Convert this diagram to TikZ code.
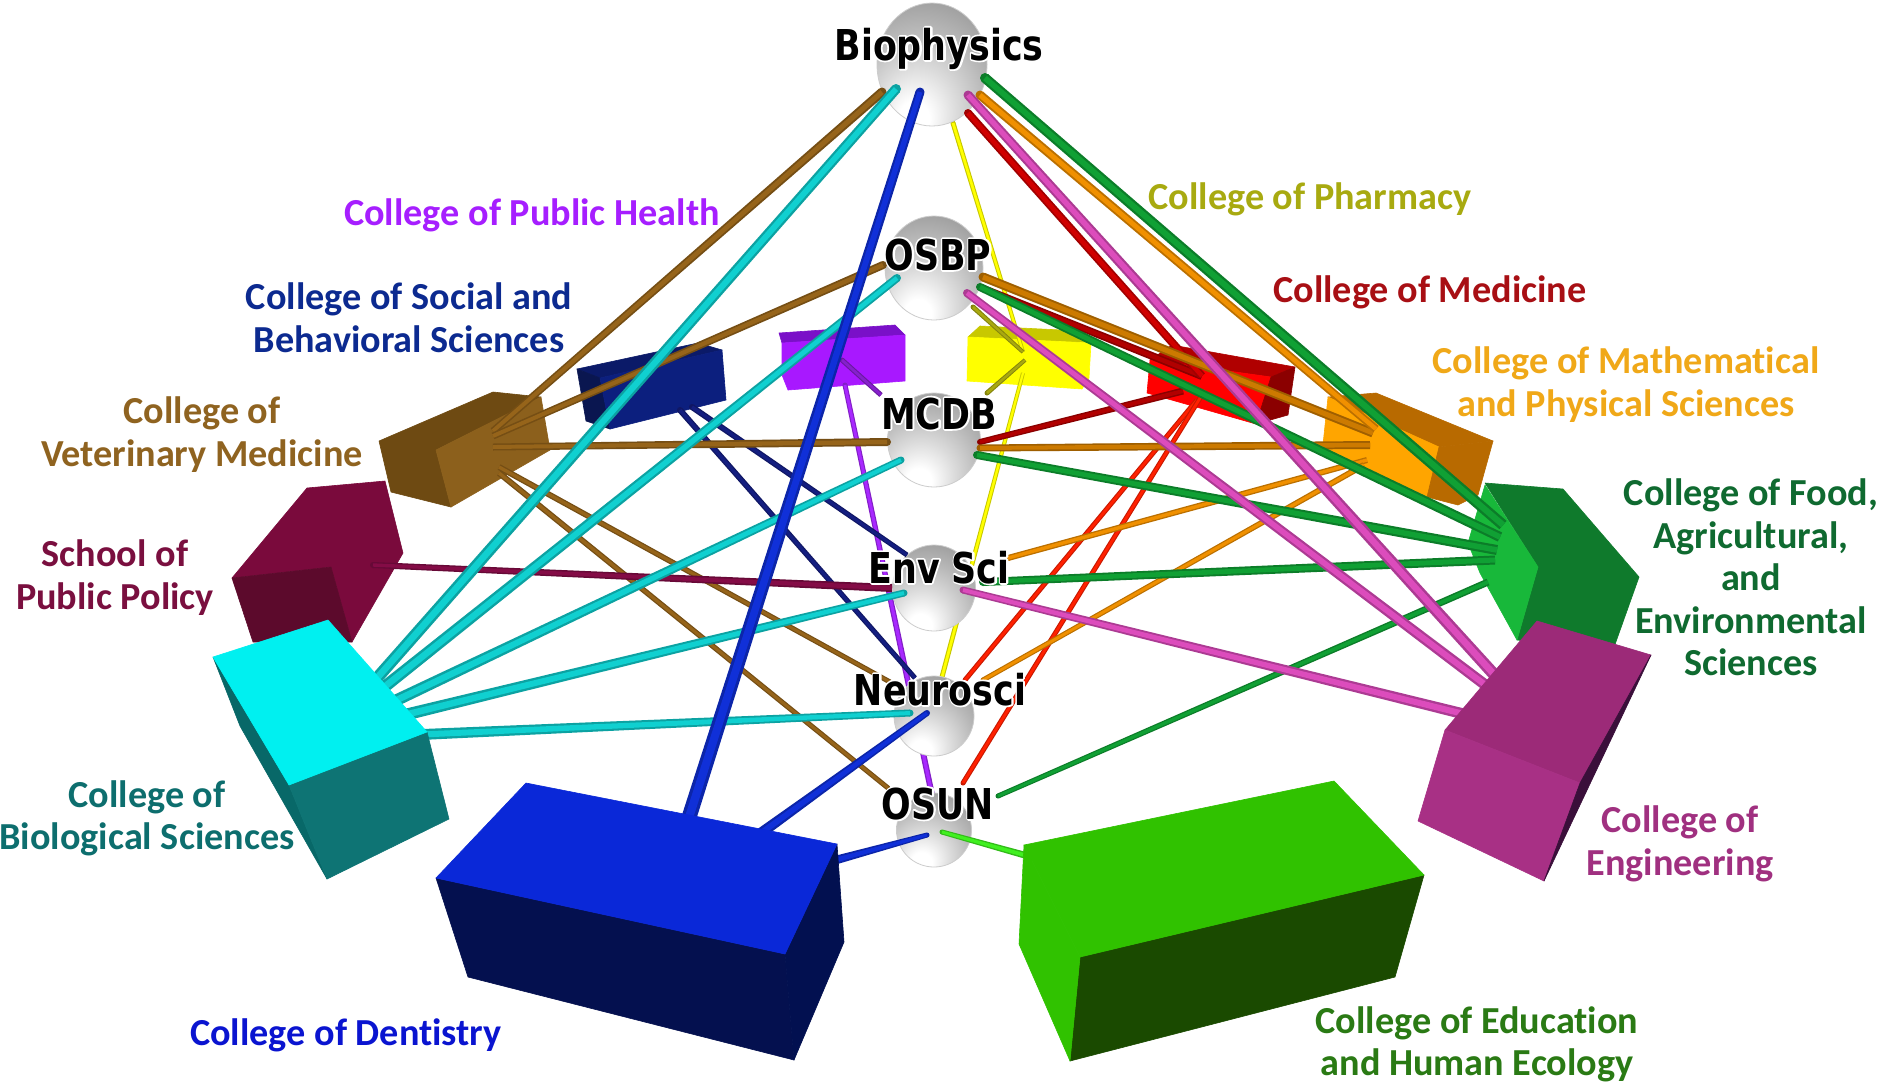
\documentclass[tikz,border=0pt]{standalone}
\usepackage{fontspec}
\usetikzlibrary{shapes.geometric,calc}
\newfontfamily\lblfont[Ligatures=NoCommon]{Carlito}
\newfontfamily\sphfont[FakeStretch=0.82]{DejaVu Sans}
\pgfdeclareradialshading{sphere}{\pgfpoint{-9bp}{-24bp}}{
  color(0bp)=(white); color(7bp)=(white); color(18bp)=(black!14); color(30bp)=(black!28);
  color(42bp)=(black!40); color(54bp)=(black!50); color(66bp)=(black!58); color(85bp)=(black!66)}
\makeatletter
\newcommand{\halo}[1]{\leavevmode\rlap{\pgfsys@invoke{1 Tr 3.5 w 1 1 1 RG 1 j}#1\pgfsys@invoke{0 Tr}}#1}
\makeatother
% tapered tube from node #1 (width #4) to node #2 (width #5), colour #3
\newcommand{\conn}[5]{%
  \fill[#3!78!black] (#1) circle[radius=#4*0.5pt];
  \fill[#3!78!black] ($(#1)!#4*0.5pt!90:(#2)$) -- ($(#1)!#4*0.5pt!-90:(#2)$) -- ($(#2)!#5*0.5pt!90:(#1)$) -- ($(#2)!#5*0.5pt!-90:(#1)$) -- cycle;
  \fill[#3] ($(#1)!#4*0.28pt!90:(#2)$) -- ($(#1)!#4*0.28pt!-90:(#2)$) -- ($(#2)!#5*0.28pt!90:(#1)$) -- ($(#2)!#5*0.28pt!-90:(#1)$) -- cycle;}
\tikzset{
  ball/.style={ellipse,shading=sphere,draw=black!20,line width=0.8pt,inner sep=0pt},
  lab/.style={font=\lblfont\bfseries\fontsize{38.2}{42.5}\selectfont,align=center,inner sep=0pt,anchor=center},
  sphlab/.style={font=\sphfont\bfseries\fontsize{42.5}{43}\selectfont,text=black,inner sep=0pt,anchor=base},
  hx/.code={\definecolor{tmpc}{HTML}{#1}\tikzset{fill=tmpc,draw=tmpc,line width=0.6pt,line join=round}},
  tx/.code={\definecolor{tmpt}{HTML}{#1}\tikzset{text=tmpt}},
}
\definecolor{cbrown}{HTML}{96641A}
\definecolor{cteal}{HTML}{10D0D0}
\definecolor{cblue}{HTML}{1030D8}
\definecolor{cnavy}{HTML}{141E80}
\definecolor{cmar}{HTML}{840C46}
\definecolor{cpur}{HTML}{A828FF}
\definecolor{cdred}{HTML}{D00000}
\definecolor{cbred}{HTML}{FF2000}
\definecolor{corg}{HTML}{F09000}
\definecolor{cgreen}{HTML}{10A034}
\definecolor{cmag}{HTML}{DC4CBC}
\definecolor{colive}{HTML}{A8A810}
\definecolor{cyel}{HTML}{FFFF00}
\definecolor{clime}{HTML}{40F020}
\begin{document}
\begin{tikzpicture}[x=1pt,y=-1pt]
\useasboundingbox (0,0) rectangle (1886,1085);
\fill[white] (0,0) rectangle (1886,1085);
% --- boxes at the back
% purple
\filldraw[hx=7A10C8] (779,333)--(895,325)--(905,335)--(782,343)--cycle;
\filldraw[hx=A818FF] (782,343)--(905,335)--(905,381)--(788,390)--(782,375)--cycle;
% yellow
\filldraw[hx=C8C800] (968,337)--(980,326)--(1082,331)--(1091,343)--cycle;
\filldraw[hx=FFFF00] (968,337)--(1091,343)--(1089,378)--(1082,389)--(967,381)--cycle;
% red
\filldraw[hx=B00000] (1150,360)--(1172,345)--(1295,367)--(1271,377)--cycle;
\filldraw[hx=FF0000] (1150,360)--(1271,377)--(1256,424)--(1147,393)--cycle;
\filldraw[hx=8B0000] (1271,377)--(1295,367)--(1288,415)--(1256,424)--cycle;
% orange
\filldraw[hx=B86A00] (1328,397)--(1376,393)--(1493,441)--(1439,447)--cycle;
\filldraw[hx=FFA500] (1328,397)--(1439,447)--(1427,497)--(1322,454)--cycle;
\filldraw[hx=B86A00] (1439,447)--(1493,441)--(1478,495)--(1458,505)--(1427,497)--cycle;
% food
\filldraw[hx=0F7A2C] (1485,483)--(1563,489)--(1639,577)--(1613,650)--(1517,640)--(1538,567)--cycle;
\filldraw[hx=18B83A] (1485,485)--(1538,567)--(1517,640)--(1480,573)--(1468,543)--cycle;
% vet
\filldraw[hx=6E4A12] (379,441)--(493,392)--(541,397)--(436,450)--(451,507)--(391,492)--cycle;
\filldraw[hx=8C601C] (436,450)--(541,397)--(550,450)--(451,507)--cycle;
% social
\filldraw[hx=0B1A68] (577,369)--(698,343)--(722,350)--(600,378)--cycle;
\filldraw[hx=0A1650] (577,369)--(600,378)--(610,429)--(586,421)--cycle;
\filldraw[hx=0C1F7E] (600,378)--(722,350)--(726,400)--(610,429)--cycle;
% policy
\filldraw[hx=7A0A3C] (307,488)--(385,481)--(403,553)--(352,642)--(331,567)--(232,578)--cycle;
\filldraw[hx=5C0A2C] (232,578)--(331,567)--(352,642)--(253,642)--cycle;
% --- ports
\coordinate (bV) at (882,92);   \coordinate (vB) at (493,431);
\coordinate (oV) at (883,265);  \coordinate (vO) at (493,436);
\coordinate (mV) at (887,442);  \coordinate (vM) at (493,447);
\coordinate (nV) at (890,682);  \coordinate (vN) at (499,467);
\coordinate (uV) at (888,788);  \coordinate (vU) at (499,473);
\coordinate (bC) at (896,89);   \coordinate (cB) at (370,686);
\coordinate (oC) at (897,278);  \coordinate (cO) at (373,696);
\coordinate (mC) at (901,460);  \coordinate (cM) at (380,708);
\coordinate (eC) at (904,593);  \coordinate (cE) at (392,718);
\coordinate (nC) at (910,713);  \coordinate (cN) at (410,735);
\coordinate (bD) at (920,92);   \coordinate (dB) at (685,830);
\coordinate (nD) at (927,713);  \coordinate (dN) at (750,841);
\coordinate (uD) at (927,835);  \coordinate (dU) at (825,863);
\coordinate (uE) at (942,832);  \coordinate (eU) at (1035,858);
\coordinate (bY) at (953,123);  \coordinate (yB) at (1023,352);
\coordinate (oY) at (973,307);  \coordinate (yO) at (1023,352);
\coordinate (mY) at (987,393);  \coordinate (yM) at (1025,360);
\coordinate (nY) at (942,677);  \coordinate (yN) at (1023,373);
\coordinate (pM) at (842,360);  \coordinate (mP) at (881,395);
\coordinate (pU) at (845,385);  \coordinate (uP) at (932,795);
\coordinate (sE) at (692,407);  \coordinate (eS) at (907,555);
\coordinate (sN) at (680,410);  \coordinate (nS) at (915,678);
\coordinate (lE) at (373,565);  \coordinate (eL) at (892,588);
\coordinate (bR) at (968,113);  \coordinate (rB) at (1202,376);
\coordinate (oR) at (980,287);  \coordinate (rO) at (1202,376);
\coordinate (mR) at (980,442);  \coordinate (rM) at (1183,391);
\coordinate (nR) at (965,680);  \coordinate (rN) at (1197,400);
\coordinate (uR) at (963,783);  \coordinate (rU) at (1205,390);
\coordinate (bO) at (980,95);   \coordinate (aB) at (1376,429);
\coordinate (oO) at (983,277);  \coordinate (aO) at (1373,433);
\coordinate (mO) at (980,448);  \coordinate (aM) at (1370,445);
\coordinate (eO) at (1008,558); \coordinate (aE) at (1367,460);
\coordinate (nO) at (983,680);  \coordinate (aN) at (1364,465);
\coordinate (bF) at (985,78);   \coordinate (fB) at (1503,525);
\coordinate (oF) at (980,287);  \coordinate (fO) at (1500,537);
\coordinate (mF) at (977,455);  \coordinate (fM) at (1497,550);
\coordinate (eF) at (983,582);  \coordinate (fE) at (1495,560);
\coordinate (uF) at (998,796);  \coordinate (fU) at (1488,582);
\coordinate (bG) at (968,95);   \coordinate (gB) at (1500,681);
\coordinate (oG) at (967,293);  \coordinate (gO) at (1492,690);
\coordinate (eG) at (963,590);  \coordinate (gE) at (1472,716);
% --- connectors behind the spheres
\conn{bY}{yB}{cyel}{5}{4}
\conn{nY}{yN}{cyel}{5}{4}
\conn{pU}{uP}{cpur}{5}{6}
% --- spheres
\node[ball,minimum width=110pt,minimum height=123pt] (Bio) at (932,64.5) {};
\node[ball,minimum width=98pt,minimum height=104pt] (OSBP) at (934,268) {};
\node[ball,minimum width=93pt,minimum height=94pt] (MCDB) at (934,440) {};
\node[ball,minimum width=83pt,minimum height=86pt] (Env) at (934,588) {};
\node[ball,minimum width=80pt,minimum height=80pt] (Neu) at (934,716) {};
\node[ball,minimum width=75pt,minimum height=74pt] (OSUN) at (934,830) {};
% --- connectors
\conn{oY}{yO}{colive}{5}{4}
\conn{mY}{yM}{colive}{5}{4}
\conn{pM}{mP}{cpur!80!black}{5}{5}
\conn{sE}{eS}{cnavy}{6}{5}
\conn{sN}{nS}{cnavy}{6}{5}
\conn{bV}{vB}{cbrown}{9}{7}
\conn{oV}{vO}{cbrown}{8}{7}
\conn{mV}{vM}{cbrown}{8}{7}
\conn{nV}{vN}{cbrown}{5}{6}
\conn{uV}{vU}{cbrown}{5}{6}
\conn{lE}{eL}{cmar}{6}{8}
\conn{bC}{cB}{cteal}{10}{12}
\conn{oC}{cO}{cteal}{8}{12}
\conn{mC}{cM}{cteal}{7}{12}
\conn{eC}{cE}{cteal}{7}{12}
\conn{nC}{cN}{cteal}{7}{11}
\conn{bD}{dB}{cblue}{9}{15}
\conn{nD}{dN}{cblue}{6}{11}
\conn{uD}{dU}{cblue}{5}{9}
\conn{uE}{eU}{clime}{5}{7}
\conn{nR}{rN}{cbred}{5}{5}
\conn{uR}{rU}{cbred}{5}{5}
\conn{mR}{rM}{cdred!85!black}{6}{7}
\conn{oR}{rO}{cdred!85!black}{7}{8}
\conn{bR}{rB}{cdred}{8}{8}
\conn{eO}{aE}{corg}{6}{6}
\conn{nO}{aN}{corg}{5}{6}
\conn{mO}{aM}{corg!85!black}{7}{8}
\conn{oO}{aO}{corg!85!black}{9}{9}
\conn{bO}{aB}{corg}{9}{8}
\conn{uF}{fU}{cgreen}{5}{7}
\conn{eF}{fE}{cgreen}{8}{9}
\conn{mF}{fM}{cgreen}{8}{10}
\conn{oF}{fO}{cgreen}{8}{10}
\conn{bF}{fB}{cgreen}{10}{11}
\conn{eG}{gE}{cmag}{7}{11}
\conn{oG}{gO}{cmag}{8}{11}
\conn{bG}{gB}{cmag}{9}{12}
% --- boxes in front of their connectors
% engineering
\filldraw[hx=9C2A78] (1537,621)--(1651,655)--(1580,783)--(1445,730)--cycle;
\filldraw[hx=A83085] (1445,730)--(1580,783)--(1544,881)--(1418,821)--cycle;
\filldraw[hx=3A0F3A] (1651,655)--(1580,783)--(1544,881)--cycle;
% biological
\filldraw[hx=086868] (213,657)--(289,785)--(327,879)--(240,726)--cycle;
\filldraw[hx=0E7474] (289,785)--(427,732)--(449,819)--(327,879)--cycle;
\filldraw[hx=00F0F0] (213,657)--(328,620)--(427,732)--(289,785)--cycle;
% dentistry
\filldraw[hx=04104F] (436,878)--(785,954)--(794,1060)--(468,977)--cycle;
\filldraw[hx=021050] (837,844)--(844,942)--(794,1060)--(785,954)--cycle;
\filldraw[hx=0A28D8] (526,783)--(837,844)--(785,954)--(436,878)--cycle;
% education
\filldraw[hx=1A4A00] (1080,957)--(1424,875)--(1395,977)--(1070,1061)--cycle;
\filldraw[hx=30C200] (1024,845)--(1080,957)--(1070,1061)--(1019,944)--cycle;
\filldraw[hx=30C200] (1024,845)--(1334,781)--(1424,875)--(1080,957)--cycle;
% --- sphere labels
\node[sphlab] (lBio) at (939,60) {\halo{Biophysics}};
\node[sphlab] (lOSBP) at (938,270) {\halo{OSBP}};
\node[sphlab] (lMCDB) at (939,429) {\halo{MCDB}};
\node[sphlab] (lEnv) at (939,583) {\halo{Env Sci}};
\node[sphlab] (lNeu) at (940,705) {\halo{Neurosci}};
\node[sphlab] (lOSUN) at (938,819) {\halo{OSUN}};
% --- college labels
\node[lab,tx=A61EFF] (tPH) at (532,215.5) {College of Public Health};
\node[lab,tx=0C2A90] (tSB) at (409,317.5) {College of Social and\\Behavioral Sciences};
\node[lab,tx=8F6320] (tVM) at (202,434.5) {College of\\Veterinary Medicine};
\node[lab,tx=7A0F3F] (tPP) at (115,577.5) {School of\\Public Policy};
\node[lab,tx=0D6E6E] (tBS) at (147,818.5) {College of\\Biological Sciences};
\node[lab,tx=0A14D0] (tDe) at (346,1035.5) {College of Dentistry};
\node[lab,tx=2A7A14] (tEd) at (1477,1044.5) {College of Education\\and Human Ecology};
\node[lab,tx=A03080] (tEn) at (1680,844) {College of\\Engineering};
\node[lab,tx=0F6A30] (tFo) at (1751,577.5) {College of Food,\\Agricultural,\\and\\Environmental\\Sciences};
\node[lab,tx=F0A818] (tMa) at (1626,384.5) {College of Mathematical\\and Physical Sciences};
\node[lab,tx=A80F14] (tMe) at (1430,292.5) {College of Medicine};
\node[lab,tx=A8AA10] (tPh) at (1310,199.5) {College of Pharmacy};
\end{tikzpicture}
\end{document}
